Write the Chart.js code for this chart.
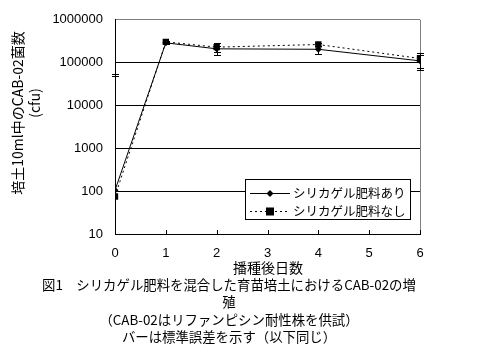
<!DOCTYPE html>
<html><head><meta charset="utf-8">
<script src="https://cdn.jsdelivr.net/npm/chart.js@4.4.1/dist/chart.umd.min.js"></script>
<style>html,body{margin:0;padding:0;background:#fff}#wrap{width:497px;height:352px;position:relative}</style>
</head><body><div id="wrap"><canvas id="c" width="497" height="352"></canvas></div>
<script>
const days = [0, 1, 2, 4, 6];
const ariValues = [105, 290000, 210000, 205000, 110000];
const ariErrHigh = [48000, 310000, 250000, 250000, 150000];
const ariErrLow = [null, 270000, 180000, 163000, 68000];
const nashiValues = [75, 305000, 230000, 265000, 125000];
const nashiErrHigh = [55000, 325000, 295000, 290000, 172000];
const nashiErrLow = [null, 285000, 150000, 240000, 75000];
const yTicks = [10, 100, 1000, 10000, 100000, 1000000];
const xTicks = [0, 1, 2, 3, 4, 5, 6];
const seriesLabels = ['シリカゲル肥料あり', 'シリカゲル肥料なし'];
const xTitle = '播種後日数';
const yTitle = ['培土10ml中のCAB-02菌数', '(cfu)'];
const caption = ['図1　シリカゲル肥料を混合した育苗培土におけるCAB-02の増', '殖', '（CAB-02はリファンピシン耐性株を供試）', 'バーは標準誤差を示す（以下同じ）'];

const JP = '"Noto Sans CJK JP", sans-serif';
const NUM = '"Liberation Sans", Arial, sans-serif';

function pts(vals){ return days.map((d,i)=>({x:d, y:vals[i]})); }

const errPlugin = {
  id:'err',
  afterDatasetsDraw(chart){
    const ctx = chart.ctx, xs = chart.scales.x, ys = chart.scales.y;
    const sets = [[ariErrHigh, ariErrLow, ariValues],[nashiErrHigh, nashiErrLow, nashiValues]];
    ctx.save(); ctx.strokeStyle='#000'; ctx.lineWidth=1;
    sets.forEach(([hi,lo,vals])=>{
      days.forEach((d,i)=>{
        const px = Math.round(xs.getPixelForValue(d))+0.5;
        const hy = hi[i]!=null ? Math.round(ys.getPixelForValue(hi[i]))+0.5 : null;
        const ly = lo[i]!=null ? Math.round(ys.getPixelForValue(lo[i]))+0.5 : null;
        const cy = ys.getPixelForValue(vals[i]);
        ctx.beginPath();
        if(hy!=null){ ctx.moveTo(px, cy); ctx.lineTo(px, hy); ctx.moveTo(px-3.5, hy); ctx.lineTo(px+3.5, hy); }
        if(ly!=null){ ctx.moveTo(px, cy); ctx.lineTo(px, ly); ctx.moveTo(px-3.5, ly); ctx.lineTo(px+3.5, ly); }
        ctx.stroke();
      });
    });
    ctx.restore();
  },
  afterDraw(chart){
    const ctx = chart.ctx, xs = chart.scales.x, ca = chart.chartArea;
    ctx.save();
    ctx.strokeStyle='#000'; ctx.lineWidth=1; ctx.beginPath();
    xTicks.forEach(v=>{ const px=Math.round(xs.getPixelForValue(v))+0.5; ctx.moveTo(px, ca.bottom); ctx.lineTo(px, ca.bottom-4); });
    ctx.stroke();
    // legend
    const lx=245.5, ly=179.5, lw=165, lh=40;
    ctx.fillStyle='#fff'; ctx.fillRect(lx,ly,lw,lh);
    ctx.strokeStyle='#000'; ctx.strokeRect(lx,ly,lw,lh);
    const ds = chart.data.datasets;
    [193, 211].forEach((yy,i)=>{
      const d = ds[i];
      ctx.beginPath(); ctx.setLineDash(d.borderDash||[]);
      ctx.moveTo(250, yy+0.5); ctx.lineTo(290, yy+0.5); ctx.stroke(); ctx.setLineDash([]);
      ctx.fillStyle='#000';
      if(d.pointStyle==='rect'){ ctx.fillRect(266, yy-3.5, 8, 8); }
      else { ctx.beginPath(); ctx.moveTo(270, yy-3); ctx.lineTo(273.5, yy+0.5); ctx.lineTo(270, yy+4); ctx.lineTo(266.5, yy+0.5); ctx.closePath(); ctx.fill(); }
      ctx.font='12.5px '+JP; ctx.textAlign='left'; ctx.textBaseline='middle';
      ctx.fillText(d.label, 293, yy);
    });
    ctx.fillStyle='#000'; ctx.textAlign='center'; ctx.textBaseline='middle';
    ctx.font='14px '+JP;
    ctx.fillText(xTitle, 268, 268);
    ctx.font='13.4px '+JP;
    const cy=[285, 302, 320, 337];
    caption.forEach((t,i)=>ctx.fillText(t, 229, cy[i]));
    ctx.font='14px '+JP;
    ctx.save(); ctx.translate(18, 113); ctx.rotate(-Math.PI/2);
    ctx.fillText(yTitle[0], 0, 0); ctx.restore();
    ctx.save(); ctx.translate(35, 103); ctx.rotate(-Math.PI/2);
    ctx.fillText(yTitle[1], 0, 0); ctx.restore();
    ctx.restore();
  }
};

new Chart(document.getElementById('c'), {
  type:'line',
  data:{ datasets:[
    { label:seriesLabels[0], data:pts(ariValues), borderColor:'#000', backgroundColor:'#000', borderWidth:1,
      pointStyle:'rectRot', pointRadius:3.5, pointBorderWidth:0, tension:0, order:1 },
    { label:seriesLabels[1], data:pts(nashiValues), borderColor:'#000', backgroundColor:'#000', borderWidth:1,
      borderDash:[2,3], pointStyle:'rect', pointRadius:4.5, pointBorderWidth:0, tension:0, order:0 }
  ]},
  options:{
    responsive:false, animation:false, devicePixelRatio:1,
    layout:{ padding:{ left:0, top:15, right:77, bottom:78 } },
    plugins:{ legend:{display:false}, tooltip:{enabled:false}, title:{display:false} },
    scales:{
      x:{ type:'linear', min:0, max:6,
        afterBuildTicks(s){ s.ticks = xTicks.map(v=>({value:v})); },
        afterFit(s){ s.height = 40; },
        ticks:{ font:{size:13, family:NUM}, color:'#000', padding:12, maxRotation:0 },
        grid:{ drawTicks:false, drawOnChartArea:true, color:c=>c.tick && c.tick.value===6 ? '#808080':'rgba(0,0,0,0)', lineWidth:1 },
        border:{ display:true, color:'#000', width:1 } },
      y:{ type:'logarithmic', min:10, max:1000000,
        afterBuildTicks(s){ s.ticks = yTicks.map(v=>({value:v})); },
        afterFit(s){ s.width = 115; },
        ticks:{ font:{size:13, family:NUM}, color:'#000', padding:12, callback:v=>String(v) },
        grid:{ drawTicks:false, color:c=>c.tick && c.tick.value===1000000 ? '#808080':'#000', lineWidth:1 },
        border:{ display:true, color:'#000', width:1 } }
    }
  },
  plugins:[errPlugin]
});
</script></body></html>
